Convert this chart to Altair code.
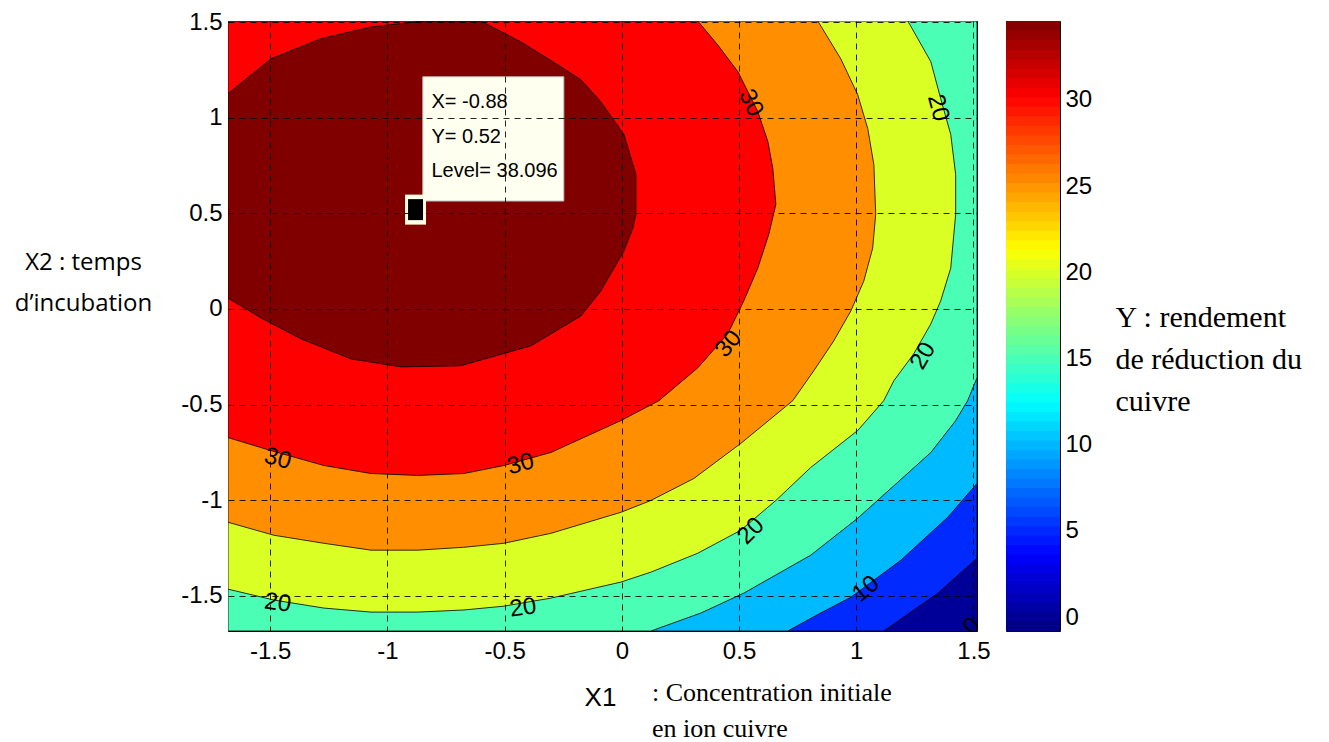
import altair as alt
import numpy as np
import pandas as pd

# ---- axes ----
X_DOMAIN = [-1.68, 1.515]
Y_DOMAIN = [-1.685, 1.507]
AXIS_TICKS = [-1.5, -1.0, -0.5, 0.0, 0.5, 1.0, 1.5]
CBAR_DOMAIN = [-0.81, 34.58]
CBAR_TICKS = [0, 5, 10, 15, 20, 25, 30]

# ---- contour levels (filled superlevel regions) ----
levels = [5, 10, 15, 20, 25, 30, 35]
level_colors = ['#002AFF', '#00BAFF', '#4AFFB5', '#DAFF25', '#FF8F00', '#FF0000', '#800000']
base_color = '#000099'

x35 = [-1.68, -1.497, -1.284, -1.070, -0.844, -0.601, -0.431, -0.294, -0.175, -0.090, 0.009, 0.060,
       0.060, 0.047, 0.009, -0.090, -0.175, -0.388, -0.687, -0.942, -1.156, -1.369, -1.539, -1.68]
y35 = [1.127, 1.309, 1.414, 1.476, 1.507, 1.507, 1.398, 1.294, 1.200, 1.085, 0.913, 0.704,
       0.496, 0.423, 0.303, 0.094, -0.037, -0.193, -0.297, -0.303, -0.261, -0.156, -0.047, 0.057]

x30 = [-1.68, -1.497, -1.271, -1.070, -0.870, -0.674, -0.503, -0.303, -0.004, 0.158, 0.324, 0.452,
       0.520, 0.580, 0.627, 0.657, 0.644, 0.623, 0.580, 0.495, 0.409, 0.324, -1.68]
y30 = [-0.673, -0.741, -0.819, -0.861, -0.871, -0.861, -0.819, -0.751, -0.584, -0.480, -0.308, -0.130,
       0.042, 0.214, 0.391, 0.548, 0.736, 0.876, 1.033, 1.242, 1.382, 1.507, 1.507]

x25 = [-1.68, -1.484, -1.271, -1.070, -0.870, -0.674, -0.503, -0.303, -0.004, 0.124, 0.307, 0.507,
       0.729, 0.819, 0.904, 0.977, 1.032, 1.070, 1.083, 1.075, 1.049, 1.006, 0.934, 0.836, -1.68]
y25 = [-1.116, -1.184, -1.226, -1.262, -1.262, -1.247, -1.226, -1.174, -1.064, -1.002, -0.887, -0.704,
       -0.480, -0.323, -0.167, -0.010, 0.146, 0.318, 0.496, 0.756, 0.944, 1.122, 1.309, 1.507, 1.507]

x20 = [-1.68, -1.484, -1.271, -1.070, -0.870, -0.674, -0.503, -0.303, -0.004, 0.124, 0.324, 0.507,
       0.657, 0.806, 1.006, 1.117, 1.160, 1.245, 1.318, 1.360, 1.403, 1.424, 1.424, 1.403, 1.360,
       1.318, 1.220, -1.68]
y20 = [-1.466, -1.523, -1.565, -1.586, -1.586, -1.575, -1.555, -1.513, -1.429, -1.377, -1.278, -1.158,
       -1.002, -0.829, -0.636, -0.480, -0.376, -0.235, -0.078, 0.042, 0.214, 0.496, 0.704, 0.913, 1.101,
       1.294, 1.507, 1.507]

x15 = [0.124, 0.337, 0.520, 0.806, 1.006, 1.318, 1.424, 1.475, 1.515, 1.515, -1.68, -1.68]
y15 = [-1.685, -1.591, -1.487, -1.288, -1.095, -0.751, -0.584, -0.480, -0.360, 1.507, 1.507, -1.685]

x10 = [0.708, 0.840, 0.977, 1.190, 1.390, 1.515, 1.515, -1.68, -1.68]
y10 = [-1.685, -1.596, -1.508, -1.315, -1.090, -0.913, 1.507, 1.507, -1.685]

x5 = [1.117, 1.348, 1.515, 1.515, -1.68, -1.68]
y5 = [-1.685, -1.487, -1.304, 1.507, 1.507, -1.685]

region_x = {5: x5, 10: x10, 15: x15, 20: x20, 25: x25, 30: x30, 35: x35}
region_y = {5: y5, 10: y10, 15: y15, 20: y20, 25: y25, 30: y30, 35: y35}

# ---- inline contour labels ----
lab_text = ['30', '30', '30', '30', '20', '20', '20', '20', '20', '10', '0']
lab_x = [0.550, 0.456, -1.468, -0.431, 1.349, 1.285, -1.468, -0.422, 0.551, 1.041, 1.494]
lab_y = [1.078, -0.183, -0.785, -0.812, 1.052, -0.246, -1.539, -1.565, -1.162, -1.466, -1.660]
lab_angle = [65, 310, 15, 345, 75, 300, 8, 352, 315, 320, 315]

# ---- data tip ----
tip_x, tip_y, tip_level = -0.88, 0.52, 38.096

# ---- scales / axes ----
x_scale = alt.Scale(domain=X_DOMAIN, nice=False, zero=False)
y_scale = alt.Scale(domain=Y_DOMAIN, nice=False, zero=False)

common_axis = dict(values=AXIS_TICKS, labelExpr="datum.value + ''", labelFont='Liberation Sans',
                   labelFontSize=24, labelColor='black', labelFlush=False, labelOverlap=False,
                   ticks=False, domain=False, grid=True, gridColor='black', gridDash=[6, 5],
                   gridWidth=1, gridOpacity=0.85, zindex=1)

x_axis = alt.Axis(title='X1', titleFont='Liberation Sans', titleFontSize=26, titleFontWeight='normal',
                  titleColor='black', titleX=372, titleY=66, titleBaseline='middle', titleAlign='center',
                  labelPadding=8, **common_axis)
y_axis = alt.Axis(title=['X2 : temps', 'd\u2019incubation'], titleAngle=0, titleAlign='center',
                  titleBaseline='top', titleX=-145, titleY=229, titleFont='Open Sans', titleFontSize=24,
                  titleLineHeight=41, titleFontWeight='normal', titleColor='black', labelPadding=6,
                  **common_axis)

X = alt.X('x:Q', scale=x_scale, axis=x_axis)
Y = alt.Y('y:Q', scale=y_scale, axis=y_axis)

layers = []
for lev, col in zip(levels, level_colors):
    df = pd.DataFrame({'x': region_x[lev], 'y': region_y[lev]})
    df['i'] = range(len(df))
    layers.append(
        alt.Chart(df).mark_line(interpolate='linear-closed', fill=col, stroke='black',
                                strokeWidth=0.8, clip=True)
        .encode(x=X, y=Y, order='i:Q')
    )

labels_df = pd.DataFrame({'x': lab_x, 'y': lab_y, 'text': lab_text, 'angle': lab_angle})
layers.append(
    alt.Chart(labels_df).mark_text(font='Liberation Sans', fontSize=24, color='black', clip=True)
    .encode(x=X, y=Y, text='text:N', angle=alt.Angle('angle:Q', scale=None))
)

box_df = pd.DataFrame({'x': [tip_x + 0.031], 'x2': [tip_x + 0.6325],
                       'y': [tip_y + 0.045], 'y2': [tip_y + 0.695]})
layers.append(
    alt.Chart(box_df).mark_rect(fill='#FFFFF0', stroke='#BDBDBD', strokeWidth=1)
    .encode(x=X, x2='x2:Q', y=Y, y2='y2:Q')
)

tip_lines = [f'X= {tip_x:.2f}', f'Y= {tip_y:.2f}', f'Level= {tip_level:.3f}']
tip_df = pd.DataFrame({'x': [tip_x + 0.068] * 3,
                       'y': [tip_y + 0.564, tip_y + 0.3805, tip_y + 0.2025],
                       'text': tip_lines})
layers.append(
    alt.Chart(tip_df).mark_text(font='Liberation Sans', fontSize=20, color='black', align='left',
                                baseline='middle')
    .encode(x=X, y=Y, text='text:N')
)

marker_df = pd.DataFrame({'x': [tip_x], 'y': [tip_y]})
layers.append(
    alt.Chart(marker_df).mark_point(shape='M-0.7,-1L0.7,-1L0.7,1L-0.7,1Z', size=900, filled=True,
                                    fill='#FFFFE6', strokeWidth=0, opacity=1)
    .encode(x=X, y=Y)
)
layers.append(
    alt.Chart(marker_df).mark_point(shape='M-0.5,-0.7L0.5,-0.7L0.5,0.7L-0.5,0.7Z', size=900, filled=True,
                                    fill='black', strokeWidth=0, opacity=1)
    .encode(x=X, y=Y)
)

main = alt.layer(*layers).properties(
    width=749, height=610,
    view=alt.ViewBackground(fill=base_color, stroke='black', strokeWidth=1),
    title=alt.TitleParams(text=[': Concentration initiale', 'en ion cuivre'], orient='bottom',
                          anchor='start', frame='group', dx=424, offset=-30, font='Liberation Serif',
                          fontSize=26, fontWeight='normal', lineHeight=36, baseline='top', color='black')
)

# ---- colour bar (jet colormap, 64 steps) ----
edges = np.linspace(CBAR_DOMAIN[0], CBAR_DOMAIN[1], 65)
cb_df = pd.DataFrame({'lo': edges[:-1], 'hi': np.minimum(edges[1:] + 0.15, CBAR_DOMAIN[1]),
                      'mid': (edges[:-1] + edges[1:]) / 2})
r = CBAR_DOMAIN[1] - CBAR_DOMAIN[0]
jet_domain = [CBAR_DOMAIN[0] + r * f for f in [0, 1 / 8, 3 / 8, 5 / 8, 7 / 8, 1]]
jet_range = ['#00007F', '#0000FF', '#00FFFF', '#FFFF00', '#FF0000', '#7F0000']

cbar = alt.Chart(cb_df).mark_rect().encode(
    y=alt.Y('lo:Q', scale=alt.Scale(domain=CBAR_DOMAIN, nice=False, zero=False),
            axis=alt.Axis(orient='right', values=CBAR_TICKS, labelExpr="datum.value + ''",
                          labelFont='Liberation Sans', labelFontSize=24, labelColor='black',
                          labelPadding=5, ticks=False, domain=False, grid=False, labelFlush=False,
                          title=['Y : rendement', 'de r\u00e9duction du', 'cuivre'], titleAngle=0,
                          titleAlign='left', titleBaseline='top', titleX=55, titleY=281,
                          titleFont='Liberation Serif', titleFontSize=30, titleFontWeight='normal',
                          titleLineHeight=42, titleColor='black')),
    y2='hi:Q',
    color=alt.Color('mid:Q', scale=alt.Scale(domain=jet_domain, range=jet_range, interpolate='rgb'),
                    legend=None)
).properties(width=54, height=610, view=alt.ViewBackground(stroke='black', strokeWidth=1))

chart = alt.hconcat(main, cbar, spacing=29, bounds='flush').properties(
    padding={'left': 5, 'top': 1, 'right': 5, 'bottom': 5}
).configure(background='white')

chart.save('out.html', embed_options={'renderer': 'svg', 'actions': False})
